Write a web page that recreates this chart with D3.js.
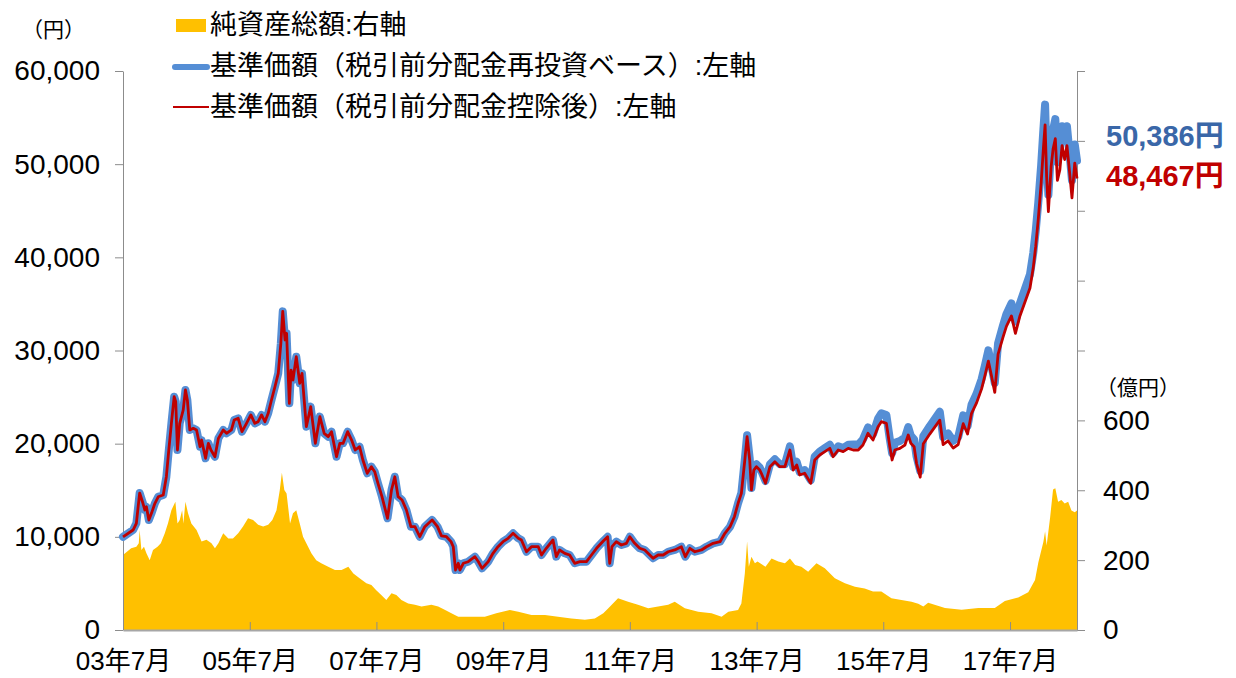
<!DOCTYPE html>
<html>
<head>
<meta charset="utf-8">
<script src="https://cdn.jsdelivr.net/npm/d3@7"></script>
<style>
  body { margin: 0; background: #fff; }
  svg { display: block; font-family: "Liberation Sans", Arial, "Noto Sans CJK JP", sans-serif; }
</style>
</head>
<body>
<svg id="chart" width="1236" height="678"></svg>
<script>
// 基準価額 (円) - dates shared by both NAV series
var navDates = [
  "2003-07-01","2003-08-28","2003-09-16","2003-10-05","2003-10-24","2003-11-04","2003-11-13","2003-11-27","2003-12-12","2004-01-01",
  "2004-01-20","2004-02-18","2004-03-07","2004-03-21","2004-04-05","2004-04-21","2004-04-30","2004-05-10","2004-05-23","2004-06-12",
  "2004-06-25","2004-07-06","2004-07-20","2004-08-09","2004-08-28","2004-09-17","2004-09-26","2004-10-19","2004-11-04","2004-11-19",
  "2004-12-12","2005-01-01","2005-01-29","2005-02-17","2005-03-17","2005-04-02","2005-04-25","2005-05-17","2005-06-12","2005-07-07",
  "2005-07-30","2005-08-18","2005-09-07","2005-09-26","2005-10-15","2005-11-03","2005-11-23","2005-12-12","2005-12-27","2006-01-07",
  "2006-01-20","2006-01-29","2006-02-14","2006-02-24","2006-03-07","2006-03-26","2006-04-15","2006-04-28","2006-05-23","2006-06-17",
  "2006-07-14","2006-08-09","2006-09-03","2006-09-26","2006-10-15","2006-11-13","2006-12-02","2006-12-21","2007-01-16","2007-02-08",
  "2007-03-01","2007-03-26","2007-04-14","2007-05-09","2007-06-02","2007-06-21","2007-07-10","2007-08-02","2007-09-03","2007-09-26",
  "2007-10-15","2007-11-03","2007-11-26","2007-12-21","2008-01-16","2008-02-08","2008-03-07","2008-04-05","2008-05-17","2008-06-17",
  "2008-07-10","2008-08-08","2008-09-03","2008-09-16","2008-09-29","2008-10-15","2008-10-24","2008-11-13","2008-12-11","2009-01-19",
  "2009-02-08","2009-03-01","2009-04-05","2009-05-03","2009-06-01","2009-06-30","2009-07-29","2009-08-27","2009-09-26","2009-10-14",
  "2009-11-12","2009-12-11","2010-01-19","2010-02-07","2010-03-06","2010-04-14","2010-05-03","2010-05-22","2010-06-21","2010-07-19",
  "2010-08-17","2010-09-16","2010-10-24","2010-11-22","2010-12-21","2011-01-29","2011-02-23","2011-03-07","2011-03-20","2011-04-14",
  "2011-05-13","2011-06-11","2011-07-01","2011-07-29","2011-08-27","2011-09-25","2011-10-24","2011-11-12","2011-12-11","2012-01-09",
  "2012-02-07","2012-03-16","2012-04-23","2012-05-16","2012-06-11","2012-07-10","2012-08-17","2012-09-15","2012-10-23","2012-12-02",
  "2012-12-30","2013-01-29","2013-02-23","2013-03-16","2013-04-04","2013-04-24","2013-05-07","2013-05-22","2013-06-01","2013-06-15",
  "2013-06-30","2013-07-19","2013-07-28","2013-08-21","2013-09-16","2013-10-14","2013-11-12","2013-12-11","2014-01-09","2014-01-28",
  "2014-02-17","2014-03-06","2014-04-04","2014-05-09","2014-06-01","2014-06-30","2014-07-29","2014-08-27","2014-09-15","2014-10-14",
  "2014-11-12","2014-12-11","2015-01-09","2015-02-07","2015-03-06","2015-04-04","2015-05-03","2015-06-01","2015-06-20","2015-07-19",
  "2015-08-08","2015-08-21","2015-09-06","2015-10-05","2015-11-03","2015-11-22","2015-12-07","2015-12-26","2016-01-09","2016-01-30",
  "2016-02-17","2016-03-25","2016-04-23","2016-05-22","2016-06-10","2016-07-09","2016-08-07","2016-09-05","2016-10-04","2016-10-29",
  "2016-11-21","2016-12-20","2017-01-18","2017-02-07","2017-02-26","2017-03-15","2017-04-04","2017-04-23","2017-05-22","2017-06-10",
  "2017-07-09","2017-08-01","2017-08-27","2017-09-25","2017-10-24","2017-11-12","2017-11-26","2017-12-11","2017-12-27","2018-01-09",
  "2018-01-19","2018-01-28","2018-02-07","2018-02-23","2018-03-06","2018-03-19","2018-03-31","2018-04-14","2018-04-27","2018-05-12",
  "2018-05-25","2018-06-10","2018-06-23","2018-07-09","2018-07-22"
];

// 基準価額 (税引前分配金再投資ベース)
var navReinvest = [
  10000,10730,11450,14700,13600,12880,13230,11800,12520,13600,
  14300,14490,16450,19320,22180,25040,24500,19320,22180,23600,
  25760,24690,21470,21650,21470,19670,20390,18430,20040,19320,
  18600,20570,21470,21110,21470,22540,22720,21290,22180,23080,
  22180,22360,23080,22360,23260,24690,26110,27550,30770,34200,
  31130,31850,24330,27900,26830,29330,26480,27550,21820,23970,
  20040,22900,21110,20750,21290,18600,20040,20040,21290,20390,
  19320,19670,18250,16820,17530,16990,15750,14310,11990,15030,
  16450,14310,13950,12880,11090,11090,10010,11090,11810,11090,
  10100,10010,9480,8940,6440,7160,6440,7160,7330,7870,
  7330,6620,7330,8230,8940,9480,9840,10380,9840,9660,
  8400,8940,8940,8050,8770,9660,7870,8590,8230,8050,
  7160,7330,7330,8050,8770,9550,10010,7160,8940,9480,
  9120,9300,10010,9300,8770,8590,8050,7700,8050,8050,
  8400,8590,8940,7870,8770,8400,8590,8940,9300,9480,
  10380,11090,12160,13600,14700,18350,20900,18450,15250,17430,
  17790,17430,17070,15990,17790,18330,17790,17790,19710,17510,
  18060,16970,17160,16070,18620,19160,19520,19890,18970,19710,
  19520,19890,19900,19900,20460,21740,21000,22690,23250,23070,
  20460,18980,20090,20280,20650,21770,20840,20460,18610,17060,
  20800,21870,22640,23420,20710,21100,20310,20710,23030,21870,
  24190,25360,26920,28460,30010,28460,26520,30780,32730,33890,
  35060,33110,35060,36610,38170,40490,42820,45930,49810,53670,
  56390,50580,46700,51740,53670,54840,50190,51340,54070,52520,
  54070,50960,48250,52120,50386
];

// 基準価額 (税引前分配金控除後)
var navAfterDist = [
  10000,10730,11450,14700,13600,12880,13230,11800,12520,13600,
  14300,14490,16450,19320,22180,25040,24500,19320,22180,23600,
  25760,24690,21470,21650,21470,19670,20390,18430,20040,19320,
  18600,20570,21470,21110,21470,22540,22720,21290,22180,23080,
  22180,22360,23080,22360,23260,24690,26110,27550,30770,34200,
  31130,31850,24330,27900,26830,29330,26480,27550,21820,23970,
  20040,22900,21110,20750,21290,18600,20040,20040,21290,20390,
  19320,19670,18250,16820,17530,16990,15750,14310,11990,15030,
  16450,14310,13950,12880,11090,11090,10010,11090,11810,11090,
  10100,10010,9480,8940,6440,7160,6440,7160,7330,7870,
  7330,6620,7330,8230,8940,9480,9840,10380,9840,9660,
  8400,8940,8940,8050,8770,9660,7870,8590,8230,8050,
  7160,7330,7330,8050,8770,9550,10010,7160,8940,9480,
  9120,9300,10010,9300,8770,8590,8050,7700,8050,8050,
  8400,8590,8940,7870,8770,8400,8590,8940,9300,9480,
  10380,11090,12160,13600,14670,18250,20750,18250,15030,17170,
  17530,17170,16820,15750,17530,18060,17530,17530,19320,17170,
  17710,16640,16820,15750,18250,18780,19140,19500,18600,19320,
  19140,19500,19320,19320,19860,21110,20390,21820,22360,22180,
  19670,18250,19320,19500,19860,20930,20040,19670,17890,16400,
  20000,21030,21770,22520,19910,20290,19530,19910,22140,21030,
  23260,24380,25880,27370,28860,27370,25500,29600,31470,32590,
  33710,31840,33710,35200,36700,38930,41170,44160,47890,51610,
  54220,48630,44900,49750,51610,52730,48260,49370,51990,50500,
  51990,49000,46390,50120,48467
];

// 純資産総額 (億円)
var assetDates = [
  "2003-07-01","2003-08-17","2003-09-16","2003-09-30","2003-10-05","2003-10-15","2003-10-30","2003-11-13","2003-12-02","2003-12-21",
  "2004-01-16","2004-02-04","2004-02-27","2004-03-16","2004-04-05","2004-04-28","2004-05-10","2004-05-23","2004-06-06","2004-06-13",
  "2004-06-25","2004-07-10","2004-07-29","2004-08-28","2004-09-26","2004-10-24","2004-11-22","2004-12-12","2005-01-01","2005-01-29",
  "2005-02-27","2005-03-26","2005-04-25","2005-05-23","2005-06-21","2005-07-20","2005-08-18","2005-09-16","2005-10-15","2005-11-08",
  "2005-12-02","2005-12-21","2006-01-02","2006-01-16","2006-01-29","2006-02-18","2006-03-07","2006-03-26","2006-04-15","2006-05-04",
  "2006-06-02","2006-06-21","2006-07-19","2006-08-17","2006-09-26","2006-11-04","2006-12-12","2007-01-20","2007-02-18","2007-03-26",
  "2007-05-04","2007-06-02","2007-06-30","2007-07-29","2007-08-27","2007-09-26","2007-10-24","2007-11-22","2007-12-31","2008-02-08",
  "2008-03-17","2008-05-13","2008-06-21","2008-07-20","2008-09-25","2008-10-15","2008-12-30","2009-03-17","2009-05-22","2009-08-08",
  "2009-09-26","2009-12-11","2010-02-27","2010-05-13","2010-07-29","2010-10-15","2010-12-11","2011-01-29","2011-02-27","2011-04-24",
  "2011-06-21","2011-08-17","2011-10-15","2011-12-11","2012-02-07","2012-03-16","2012-05-13","2012-07-29","2012-10-14","2012-12-11",
  "2013-01-19","2013-03-16","2013-04-04","2013-04-24","2013-05-07","2013-05-17","2013-06-01","2013-06-21","2013-07-06","2013-08-21",
  "2013-09-25","2013-11-03","2013-12-11","2014-01-09","2014-02-08","2014-03-16","2014-04-24","2014-06-11","2014-07-29","2014-09-25",
  "2014-11-22","2015-01-19","2015-03-16","2015-05-03","2015-06-20","2015-08-17","2015-10-14","2015-12-11","2016-01-19","2016-02-17",
  "2016-03-16","2016-06-21","2016-09-25","2016-12-30","2017-04-04","2017-06-01","2017-08-17","2017-10-14","2017-11-22","2017-12-11",
  "2018-01-09","2018-01-19","2018-01-28","2018-02-17","2018-03-06","2018-03-19","2018-04-04","2018-04-23","2018-05-12","2018-06-01",
  "2018-06-20","2018-07-09","2018-07-22"
];
var netAssets = [
  215,234,238,248,286,229,238,220,200,229,
  238,248,277,305,343,367,305,315,343,305,
  367,334,305,286,253,258,248,234,248,277,
  262,262,277,296,320,315,301,296,301,315,
  343,401,450,401,391,305,334,343,305,267,
  238,220,200,191,181,172,172,181,162,148,
  134,129,114,100,86,105,100,86,76,72,
  67,72,67,60,43,38,38,38,48,57,
  52,43,43,38,33,29,33,48,62,91,
  81,72,62,67,72,81,62,52,48,38,
  52,57,76,162,253,181,210,191,196,181,
  205,196,191,205,186,181,167,191,177,148,
  134,124,119,110,110,91,86,81,75,67,
  78,63,58,63,63,83,93,108,143,193,
  252,282,242,322,402,406,367,372,362,367,
  342,337,342
];

var leftTicks = [0, 10000, 20000, 30000, 40000, 50000, 60000];
var rightTicks = [0, 200, 400, 600, 800, 1000, 1200, 1400, 1600];
var rightLabelMax = 600;
var xTickDates = ["2003-07-01","2005-07-01","2007-07-01","2009-07-01","2011-07-01","2013-07-01","2015-07-01","2017-07-01"];
var legendLabels = ["純資産総額:右軸", "基準価額（税引前分配金再投資ベース）:左軸", "基準価額（税引前分配金控除後）:左軸"];
var lastLabels = ["50,386円", "48,467円"];

var parse = d3.timeParse("%Y-%m-%d");
var svg = d3.select("#chart");
var plot = { left: 123, right: 1077, top: 71, bottom: 630 };

var x = d3.scaleTime()
    .domain([parse("2003-07-01"), parse("2018-07-22")])
    .range([plot.left, plot.right]);
var yL = d3.scaleLinear().domain([0, 60000]).range([plot.bottom, plot.top]);
var yR = d3.scaleLinear().domain([0, 1600]).range([plot.bottom, plot.top]);

var navData = navDates.map(function(d, i) {
    return { date: parse(d), reinvest: navReinvest[i], after: navAfterDist[i] };
});
var assetData = assetDates.map(function(d, i) {
    return { date: parse(d), v: netAssets[i] };
});

// area (right axis)
svg.append("path")
    .datum(assetData)
    .attr("fill", "#FFC000")
    .attr("d", d3.area()
        .x(function(d) { return x(d.date); })
        .y0(yR(0))
        .y1(function(d) { return yR(d.v); }));

// axes
var axisColor = "#8c8c8c";
function styleAxis(g) {
    g.selectAll("path.domain").attr("stroke", axisColor);
    g.selectAll(".tick line").attr("stroke", axisColor);
    g.selectAll("text").attr("fill", "#000");
}

var gL = svg.append("g")
    .attr("transform", "translate(" + plot.left + ",0)")
    .call(d3.axisLeft(yL).tickValues(leftTicks).tickSizeInner(8).tickSizeOuter(0)
        .tickPadding(15).tickFormat(d3.format(",")));
gL.attr("font-size", 28).attr("font-family", null);
styleAxis(gL);

var gR = svg.append("g")
    .attr("transform", "translate(" + plot.right + ",0)")
    .call(d3.axisRight(yR).tickValues(rightTicks).tickSizeInner(8).tickSizeOuter(0)
        .tickPadding(18).tickFormat(function(d) { return d <= rightLabelMax ? d : ""; }));
gR.attr("font-size", 28).attr("font-family", null);
styleAxis(gR);

var gX = svg.append("g")
    .attr("transform", "translate(0," + plot.bottom + ")")
    .call(d3.axisBottom(x).tickValues(xTickDates.map(parse)).tickSizeInner(-8).tickSizeOuter(0)
        .tickPadding(22).tickFormat(d3.timeFormat("%y年%-m月")));
gX.attr("font-size", 26).attr("font-family", null);
styleAxis(gX);
gX.select("path.domain").attr("stroke", "#a6a6a6").attr("stroke-width", 2);

// lines (left axis)
var lineReinvest = d3.line()
    .x(function(d) { return x(d.date); })
    .y(function(d) { return yL(d.reinvest); });
var lineAfter = d3.line()
    .x(function(d) { return x(d.date); })
    .y(function(d) { return yL(d.after); });

svg.append("path")
    .datum(navData)
    .attr("fill", "none")
    .attr("stroke", "#558ED5")
    .attr("stroke-width", 8)
    .attr("stroke-linejoin", "round")
    .attr("stroke-linecap", "round")
    .attr("d", lineReinvest);

svg.append("path")
    .datum(navData)
    .attr("fill", "none")
    .attr("stroke", "#C00000")
    .attr("stroke-width", 2.8)
    .attr("stroke-linejoin", "round")
    .attr("d", lineAfter);

// unit labels
svg.append("text").text("（円）")
    .attr("x", 22).attr("y", 29)
    .attr("dominant-baseline", "central")
    .attr("font-size", 21);
svg.append("text").text("（億円）")
    .attr("x", 1096).attr("y", 387)
    .attr("dominant-baseline", "central")
    .attr("font-size", 21);

// last values
svg.append("text").text(lastLabels[0])
    .attr("x", 1106).attr("y", 136)
    .attr("dominant-baseline", "central")
    .attr("font-size", 29).attr("font-weight", "bold")
    .attr("fill", "#3A67A8");
svg.append("text").text(lastLabels[1])
    .attr("x", 1106).attr("y", 176)
    .attr("dominant-baseline", "central")
    .attr("font-size", 29).attr("font-weight", "bold")
    .attr("fill", "#C00000");

// legend
var legend = svg.append("g").attr("font-size", 27);
legend.append("rect")
    .attr("x", 176).attr("y", 19).attr("width", 30).attr("height", 13)
    .attr("fill", "#FFC000");
legend.append("line")
    .attr("x1", 175).attr("x2", 207).attr("y1", 67).attr("y2", 67)
    .attr("stroke", "#558ED5").attr("stroke-width", 6).attr("stroke-linecap", "round");
legend.append("line")
    .attr("x1", 173).attr("x2", 209).attr("y1", 107).attr("y2", 107)
    .attr("stroke", "#C00000").attr("stroke-width", 2);
var legendY = [25, 66, 107];
legendLabels.forEach(function(t, i) {
    legend.append("text").text(t)
        .attr("x", 210).attr("y", legendY[i])
        .attr("dominant-baseline", "central");
});
</script>
</body>
</html>
